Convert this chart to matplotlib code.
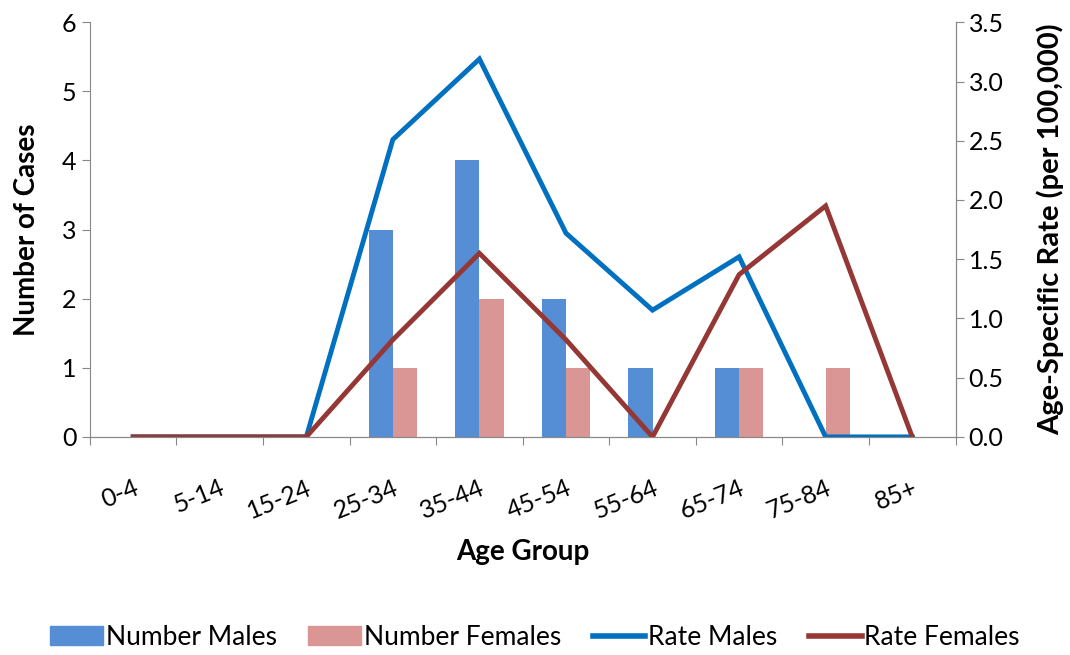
import numpy as np
import matplotlib.pyplot as plt
from matplotlib.patches import Patch
from matplotlib.lines import Line2D

plt.rcParams['font.family'] = ['Lato', 'DejaVu Sans']

age_groups = ['0-4', '5-14', '15-24', '25-34', '35-44', '45-54', '55-64', '65-74', '75-84', '85+']
number_males = [0, 0, 0, 3, 4, 2, 1, 1, 0, 0]
number_females = [0, 0, 0, 1, 2, 1, 0, 1, 1, 0]
rate_males = [0, 0, 0, 2.51, 3.19, 1.72, 1.07, 1.52, 0, 0]
rate_females = [0, 0, 0, 0.82, 1.55, 0.82, 0, 1.37, 1.95, 0]

x = np.arange(len(age_groups))
width = 0.28

fig = plt.figure(figsize=(10.7, 6.55), dpi=100)
ax = fig.add_axes([0.084, 0.333, 0.809, 0.633])
ax2 = ax.twinx()

ax.bar(x - width / 2, number_males, width, color='#558ED5', zorder=2)
ax.bar(x + width / 2, number_females, width, color='#D99694', zorder=2)

ax2.plot(x, rate_males, color='#0070C0', lw=3.5, solid_joinstyle='miter')
ax2.plot(x, rate_females, color='#953735', lw=3.5, solid_joinstyle='miter')

ax.set_xlim(-0.5, len(age_groups) - 0.5)
ax.set_ylim(0, 6)
ax2.set_ylim(0, 3.5)
ax.set_yticks(range(7))
ax2.set_yticks(np.arange(0, 3.51, 0.5))
ax2.set_yticklabels([f'{v:.1f}' for v in np.arange(0, 3.51, 0.5)])

# category ticks sit between the groups, labels at the centres
ax.set_xticks(np.arange(-0.5, len(age_groups), 1.0))
ax.set_xticklabels([])
ax.set_xticks(x, minor=True)
ax.set_xticklabels(age_groups, minor=True, rotation=22, ha='right',
                   rotation_mode='anchor', fontsize=18)
ax.tick_params(axis='x', which='minor', length=0, pad=28)
ax.tick_params(axis='x', which='major', length=6, color='#888888')

for a in (ax, ax2):
    a.spines['top'].set_visible(False)
    for s in a.spines.values():
        s.set_color('#888888')
    a.tick_params(axis='y', labelsize=18, color='#888888', length=6)
ax2.spines['left'].set_visible(False)

ax.set_ylabel('Number of Cases', fontsize=20, fontweight='bold', labelpad=16)
ax2.set_ylabel('Age-Specific Rate (per 100,000)', fontsize=21, fontweight='bold', labelpad=24)
ax.set_xlabel('Age Group', fontsize=20, fontweight='bold', labelpad=12)

handles = [Patch(color='#558ED5'), Patch(color='#D99694'),
           Line2D([], [], color='#0070C0', lw=4),
           Line2D([], [], color='#953735', lw=4)]
labels = ['Number Males', 'Number Females', 'Rate Males', 'Rate Females']
fig.legend(handles, labels, loc='center', bbox_to_anchor=(0.5, 0.027), ncol=4,
           frameon=False, fontsize=19, handlelength=2.0, handletextpad=0.1,
           columnspacing=1.2)

fig.savefig('out.png', dpi=100)
